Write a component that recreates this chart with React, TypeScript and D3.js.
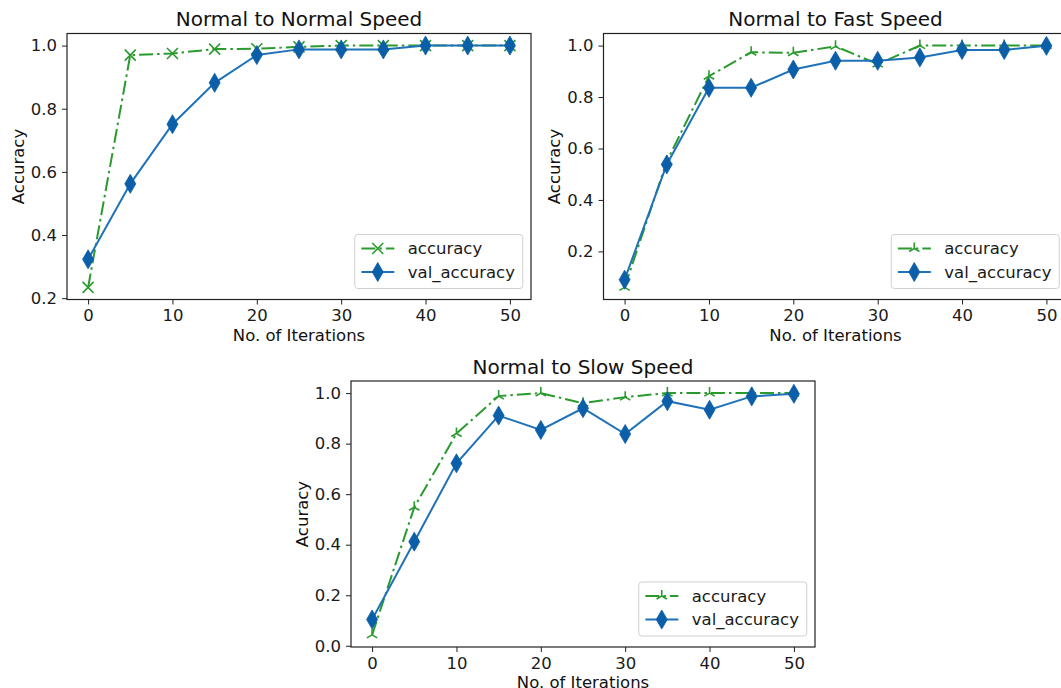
import React, { useRef, useEffect } from 'react';
import * as d3 from 'd3';

// x values shared by every panel
const iterations = [0, 5, 10, 15, 20, 25, 30, 35, 40, 45, 50];

const normalAcc = [0.234, 0.97, 0.975, 0.989, 0.99, 0.996, 1.0, 1.0, 1.0, 1.0, 1.0];
const normalValAcc = [0.323, 0.562, 0.751, 0.882, 0.97, 0.988, 0.988, 0.988, 1.0, 1.0, 1.0];

const fastAcc = [0.06, 0.55, 0.881, 0.974, 0.972, 0.997, 0.928, 1.0, 1.0, 1.0, 1.0];
const fastValAcc = [0.09, 0.538, 0.836, 0.836, 0.907, 0.941, 0.941, 0.954, 0.983, 0.983, 0.999];

const slowAcc = [0.043, 0.548, 0.84, 0.988, 1.0, 0.96, 0.984, 1.0, 1.0, 1.0, 1.0];
const slowValAcc = [0.104, 0.412, 0.722, 0.911, 0.854, 0.94, 0.838, 0.968, 0.934, 0.987, 0.997];

const titles = ['Normal to Normal Speed', 'Normal to Fast Speed', 'Normal to Slow Speed'];
const yLabels = ['Accuracy', 'Accuracy', 'Acuracy'];
const xLabel = 'No. of Iterations';
const xTicks = [0, 10, 20, 30, 40, 50];
const yTicksUpper = [0.2, 0.4, 0.6, 0.8, 1.0];
const yTicksLower = [0.0, 0.2, 0.4, 0.6, 0.8, 1.0];
const legendLabels = ['accuracy', 'val_accuracy'];

const GREEN = '#2a9a2e';
const BLUE_LINE = '#1f72b8';
const BLUE_MARK = '#0b5ea8';
const FONT = 'DejaVu Sans, sans-serif';
const FS = 16.5;
const W = 464;
const H = 266;

type Panel = {
  title: string;
  yLabel: string;
  acc: number[];
  val: number[];
  yTicks: number[];
  marker: 'x' | 'tri';
  left: number;
  top: number;
};

const panels: Panel[] = [
  { title: titles[0], yLabel: yLabels[0], acc: normalAcc, val: normalValAcc, yTicks: yTicksUpper, marker: 'x', left: 67, top: 33.5 },
  { title: titles[1], yLabel: yLabels[1], acc: fastAcc, val: fastValAcc, yTicks: yTicksUpper, marker: 'tri', left: 603.5, top: 33.5 },
  { title: titles[2], yLabel: yLabels[2], acc: slowAcc, val: slowValAcc, yTicks: yTicksLower, marker: 'tri', left: 351, top: 381 },
];

const markerPath = (kind: string) => {
  if (kind === 'x') {
    const s = 5.5;
    return `M${-s},${-s}L${s},${s}M${-s},${s}L${s},${-s}`;
  }
  if (kind === 'tri') {
    const r = 6;
    return `M0,0L0,${-r}M0,0L${-r * 0.866},${r * 0.5}M0,0L${r * 0.866},${r * 0.5}`;
  }
  return 'M0,-9.5L5.5,0L0,9.5L-5.5,0Z';
};

function drawPanel(svg: any, p: Panel) {
  const g = svg.append('g').attr('transform', `translate(${p.left},${p.top})`);

  const [x0, x1] = d3.extent(iterations) as [number, number];
  const xPad = (x1 - x0) * 0.05;
  const [lo, hi] = d3.extent([...p.acc, ...p.val]) as [number, number];
  const yPad = (hi - lo) * 0.05;

  const x = d3.scaleLinear().domain([x0 - xPad, x1 + xPad]).range([0, W]);
  const y = d3.scaleLinear().domain([lo - yPad, hi + yPad]).range([H, 0]);

  // axes
  const xAxis = g.append('g')
    .attr('transform', `translate(0,${H})`)
    .call(d3.axisBottom(x).tickValues(xTicks).tickSize(5).tickPadding(5).tickFormat(d3.format('d')));
  const yAxis = g.append('g')
    .call(d3.axisLeft(y).tickValues(p.yTicks).tickSize(5).tickPadding(5).tickFormat(d3.format('.1f')));
  [xAxis, yAxis].forEach(a => {
    a.select('.domain').remove();
    a.selectAll('line').attr('stroke', '#222').attr('stroke-width', 1);
    a.selectAll('text').attr('fill', '#1a1a1a').style('font-family', FONT).style('font-size', `${FS}px`);
  });

  const line = d3.line<number>()
    .x((_, i) => x(iterations[i]))
    .y(d => y(d));

  g.append('path')
    .attr('d', line(p.acc))
    .attr('fill', 'none')
    .attr('stroke', GREEN)
    .attr('stroke-width', 2)
    .attr('stroke-dasharray', '14,4,2.5,4');

  g.selectAll('.acc-mark')
    .data(p.acc)
    .enter().append('path')
    .attr('class', 'acc-mark')
    .attr('transform', (d: number, i: number) => `translate(${x(iterations[i])},${y(d)})`)
    .attr('d', markerPath(p.marker))
    .attr('fill', 'none')
    .attr('stroke', GREEN)
    .attr('stroke-width', 1.6);

  g.append('path')
    .attr('d', line(p.val))
    .attr('fill', 'none')
    .attr('stroke', BLUE_LINE)
    .attr('stroke-width', 2);

  g.selectAll('.val-mark')
    .data(p.val)
    .enter().append('path')
    .attr('class', 'val-mark')
    .attr('transform', (d: number, i: number) => `translate(${x(iterations[i])},${y(d)})`)
    .attr('d', markerPath('d'))
    .attr('fill', BLUE_MARK)
    .attr('stroke', BLUE_MARK)
    .attr('stroke-width', 0.8);

  // frame
  g.append('rect')
    .attr('width', W)
    .attr('height', H)
    .attr('fill', 'none')
    .attr('stroke', '#222')
    .attr('stroke-width', 1.2);

  // title + labels
  g.append('text')
    .attr('x', W / 2)
    .attr('y', -7.5)
    .attr('text-anchor', 'middle')
    .style('font-family', FONT)
    .style('font-size', '20px')
    .attr('fill', '#111')
    .text(p.title);

  g.append('text')
    .attr('x', W / 2)
    .attr('y', H + 41)
    .attr('text-anchor', 'middle')
    .style('font-family', FONT)
    .style('font-size', `${FS}px`)
    .attr('fill', '#111')
    .text(xLabel);

  g.append('text')
    .attr('transform', `translate(-49,${H / 2}) rotate(-90)`)
    .attr('dy', '0.35em')
    .attr('text-anchor', 'middle')
    .style('font-family', FONT)
    .style('font-size', `${FS}px`)
    .attr('fill', '#111')
    .text(p.yLabel);

  // legend
  const lw = 168, lh = 54;
  const leg = g.append('g').attr('transform', `translate(${W - 8.25 - lw},${H - 11 - lh})`);
  leg.append('rect')
    .attr('width', lw)
    .attr('height', lh)
    .attr('rx', 3)
    .attr('fill', 'rgba(255,255,255,0.85)')
    .attr('stroke', '#d0d0d0')
    .attr('stroke-width', 1);

  const rows = [14, 37.5];
  legendLabels.forEach((lab, i) => {
    const row = leg.append('g').attr('transform', `translate(0,${rows[i]})`);
    const isAcc = i === 0;
    row.append('line')
      .attr('x1', 6.6).attr('x2', 39.6)
      .attr('stroke', isAcc ? GREEN : BLUE_LINE)
      .attr('stroke-width', 2)
      .attr('stroke-dasharray', isAcc ? '14,4,2.5,4' : null);
    row.append('path')
      .attr('transform', 'translate(23,0)')
      .attr('d', markerPath(isAcc ? p.marker : 'd'))
      .attr('fill', isAcc ? 'none' : BLUE_MARK)
      .attr('stroke', isAcc ? GREEN : BLUE_MARK)
      .attr('stroke-width', isAcc ? 1.6 : 0.8);
    row.append('text')
      .attr('x', 53)
      .attr('dy', '0.35em')
      .style('font-family', FONT)
      .style('font-size', `${FS}px`)
      .attr('fill', '#1a1a1a')
      .text(lab);
  });
}

const App = () => {
  const svgRef = useRef<SVGSVGElement>(null);

  useEffect(() => {
    const svg = d3.select(svgRef.current);
    svg.selectAll('*').remove();
    panels.forEach(p => drawPanel(svg, p));
  }, []);

  return (
    <svg
      ref={svgRef}
      width={1061}
      height={688}
      style={{ position: 'absolute', left: 0, top: 0, background: '#fff' }}
    />
  );
};

export default App;
